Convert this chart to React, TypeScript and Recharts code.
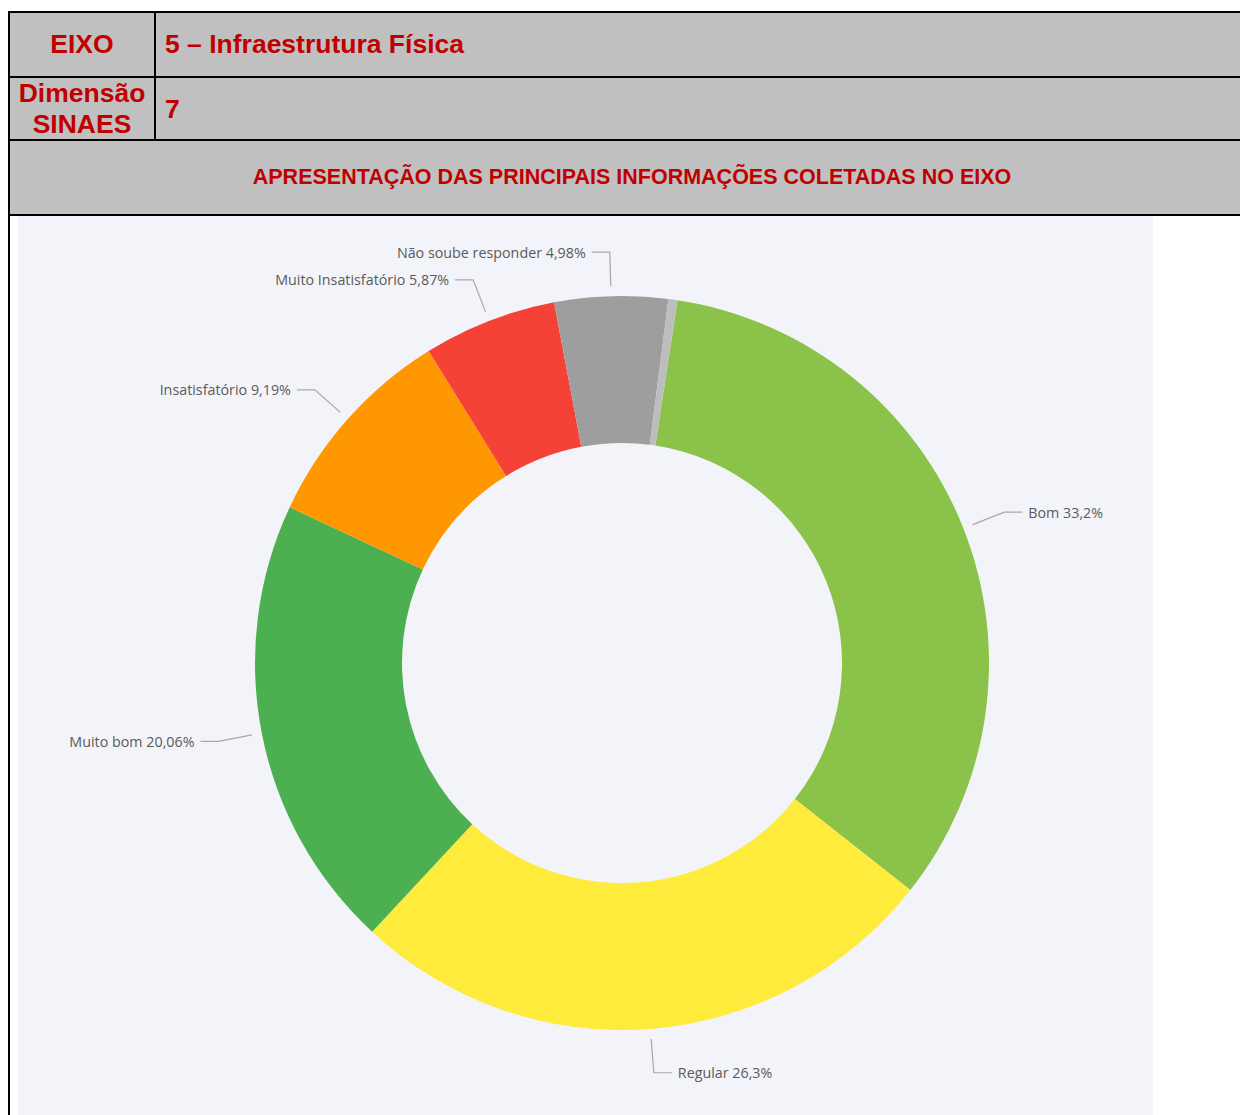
import { PieChart, Pie, Cell } from 'recharts';

const categories = ['Bom', 'Regular', 'Muito bom', 'Insatisfatório', 'Muito Insatisfatório', 'Não soube responder', 'Outros'];
const values = [33.2, 26.3, 20.06, 9.19, 5.87, 4.98, 0.4];
const showLabel = [true, true, true, true, true, true, false];
const COLORS = ['#8bc34a', '#ffeb3b', '#4caf50', '#ff9800', '#f44336', '#9e9e9e', '#bdbdbd'];

const data = categories.map((name, i) => ({ name, value: values[i], idx: i }));

const RED = '#c00000';
const GRAY = '#c0c0c0';
const RADIAN = Math.PI / 180;

const fmt = (v: number) => `${String(v).replace('.', ',')}%`;

const renderLabel = (props: any) => {
  const { cx, cy, midAngle, outerRadius, payload, index } = props;
  const i = payload?.idx ?? index;
  if (!showLabel[i]) return null;
  const cos = Math.cos(-midAngle * RADIAN);
  const sin = Math.sin(-midAngle * RADIAN);
  const sx = cx + (outerRadius + 10) * cos;
  const sy = cy + (outerRadius + 10) * sin;
  const ex = cx + (outerRadius + 44) * cos;
  const ey = cy + (outerRadius + 44) * sin;
  const right = cos >= 0;
  const hx = ex + (right ? 18 : -18);
  const tx = hx + (right ? 6 : -6);
  return (
    <g>
      <path d={`M${sx},${sy}L${ex},${ey}L${hx},${ey}`} stroke="#a8a8a8" strokeWidth={1.2} fill="none" />
      <text
        x={tx}
        y={ey}
        textAnchor={right ? 'start' : 'end'}
        dominantBaseline="central"
        fill="#5a5a5a"
        fontSize={14.3}
        fontFamily="'Open Sans', sans-serif"
      >
        {`${categories[i]} ${fmt(values[i])}`}
      </text>
    </g>
  );
};

const cell: React.CSSProperties = {
  position: 'absolute',
  background: GRAY,
  color: RED,
  fontFamily: "'Liberation Sans', Arial, sans-serif",
  fontWeight: 'bold',
  display: 'flex',
  alignItems: 'center',
  boxSizing: 'border-box',
};

export default function App() {
  return (
    <div style={{ position: 'relative', width: 1240, height: 1115, overflow: 'hidden', background: '#fff' }}>
      <style>{`body{margin:0;overflow:hidden}`}</style>
      {/* table header */}
      <div style={{ position: 'absolute', left: 8, top: 11, width: 1232, height: 206, background: '#000' }} />
      <div style={{ ...cell, left: 10, top: 13, width: 144, height: 63, justifyContent: 'center', fontSize: 26.5 }}>EIXO</div>
      <div style={{ ...cell, left: 156, top: 13, width: 1084, height: 63, paddingLeft: 9, fontSize: 26.5 }}>
        5 – Infraestrutura Física
      </div>
      <div style={{ ...cell, left: 10, top: 78, width: 144, height: 61, justifyContent: 'center', textAlign: 'center', fontSize: 26.5, lineHeight: '31px' }}>
        Dimensão
        <br />
        SINAES
      </div>
      <div style={{ ...cell, left: 156, top: 78, width: 1084, height: 61, paddingLeft: 9, paddingTop: 2, fontSize: 26.5 }}>7</div>
      <div style={{ ...cell, left: 10, top: 141, width: 1230, height: 73, justifyContent: 'center', paddingLeft: 14, fontSize: 21.5 }}>
        APRESENTAÇÃO DAS PRINCIPAIS INFORMAÇÕES COLETADAS NO EIXO
      </div>
      {/* chart area */}
      <div style={{ position: 'absolute', left: 8, top: 216, width: 2, height: 899, background: '#000' }} />
      <div style={{ position: 'absolute', left: 10, top: 216, width: 1230, height: 899, background: '#fff' }} />
      <div style={{ position: 'absolute', left: 18, top: 216, width: 1135, height: 899, background: '#f3f4f9' }}>
        <PieChart width={1135} height={899} margin={{ top: 0, right: 0, bottom: 0, left: 0 }}>
          <Pie
            data={data}
            dataKey="value"
            nameKey="name"
            cx={604}
            cy={447}
            innerRadius={220}
            outerRadius={367}
            startAngle={81.3}
            endAngle={-278.7}
            stroke="none"
            label={renderLabel}
            labelLine={false}
            isAnimationActive={false}
          >
            {data.map((d, i) => (
              <Cell key={d.name} fill={COLORS[i]} />
            ))}
          </Pie>
        </PieChart>
      </div>
    </div>
  );
}
